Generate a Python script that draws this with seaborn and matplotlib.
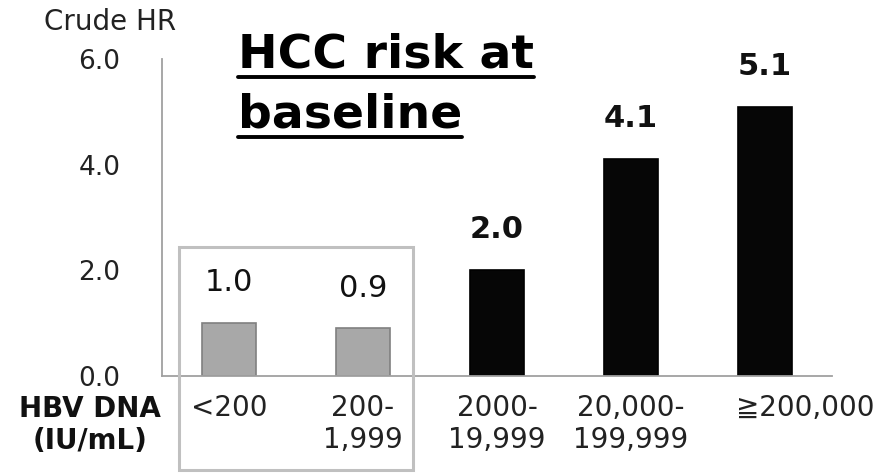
import pandas as pd
import matplotlib
matplotlib.use('Agg')
import matplotlib.pyplot as plt
import matplotlib.transforms as mtrans
import seaborn as sns
from matplotlib.patches import Rectangle
from matplotlib.lines import Line2D

# data
dna_levels = ['<200', '200-\n1,999', '2000-\n19,999', '20,000-\n199,999', '≧200,000']
crude_hr = [1.0, 0.9, 2.0, 4.1, 5.1]
groups = ['low', 'low', 'high', 'high', 'high']
ytick_vals = [0.0, 2.0, 4.0, 6.0]

df = pd.DataFrame({'dna': dna_levels, 'hr': crude_hr, 'group': groups})

sns.set_style('white')
plt.rcParams['font.family'] = ['DejaVu Sans', 'Noto Sans CJK JP']

W, H = 881, 473
fig = plt.figure(figsize=(W / 100, H / 100), dpi=100)
ax = fig.add_axes([162 / W, 97 / H, (832 - 162) / W, (376 - 59) / H])

sns.barplot(data=df, x='dna', y='hr', hue='group', order=dna_levels,
            palette={'low': '#a8a8a8', 'high': '#060606'},
            width=0.41, dodge=False, legend=False, saturation=1, ax=ax)

edge = {'low': '#808080', 'high': '#000000'}
for bar, g in zip(ax.patches, groups):
    bar.set_edgecolor(edge[g])
    bar.set_linewidth(1.2)

# value labels: normal for gray bars, bold for black
for i, (v, g) in enumerate(zip(crude_hr, groups)):
    ax.annotate(f'{v:.1f}', (i, v), xytext=(0, 23), textcoords='offset points',
                ha='center', va='baseline', fontsize=22,
                fontweight='bold' if g == 'high' else 'normal', color='#111111')

ax.set_xlim(-0.5, 4.5)
ax.set_ylim(0, 6)
ax.set_yticks(ytick_vals)
ax.set_yticklabels([f'{t:.1f}' for t in ytick_vals])
ax.set_xlabel('')
ax.set_ylabel('')
for s in ['top', 'right']:
    ax.spines[s].set_visible(False)
for s in ['left', 'bottom']:
    ax.spines[s].set_color('#a0a0a0')
    ax.spines[s].set_linewidth(1.3)
ax.tick_params(axis='y', length=7, width=1.2, color='#a0a0a0', direction='out',
               pad=23, labelsize=19, labelcolor='#222222')
ax.tick_params(axis='x', length=0, pad=13, labelsize=20, labelcolor='#222222')
xlabs = ax.get_xticklabels()
for lab in xlabs:
    lab.set_multialignment('center')
# last label sits a bit right of its bar on the slide
shift = mtrans.ScaledTranslation(0.40, 0, fig.dpi_scale_trans)
xlabs[-1].set_transform(xlabs[-1].get_transform() + shift)

# gray frame around the two lowest groups
fig.add_artist(Rectangle((179 / W, 1 - 470 / H), (413 - 179) / W, (470 - 247) / H,
                         transform=fig.transFigure, fill=False,
                         edgecolor='#c0c0c0', linewidth=2.2, zorder=5))

fig.text(110 / W, 1 - 22 / H, 'Crude HR', ha='center', va='center',
         fontsize=20, color='#222222')
fig.text(90 / W, 1 - 425 / H, 'HBV DNA\n(IU/mL)', ha='center', va='center',
         fontsize=20, fontweight='bold', color='#111111', linespacing=1.2)

# underlined title
t1 = fig.text(238 / W, 1 - 67 / H, 'HCC risk at', ha='left', va='baseline',
              fontsize=34, fontweight='bold', color='#000000')
t2 = fig.text(238 / W, 1 - 127 / H, 'baseline', ha='left', va='baseline',
              fontsize=34, fontweight='bold', color='#000000')
fig.canvas.draw()
r = fig.canvas.get_renderer()
for t, uy in [(t1, 77), (t2, 137)]:
    bb = t.get_window_extent(r)
    fig.add_artist(Line2D([bb.x0 / W, bb.x1 / W], [1 - uy / H, 1 - uy / H],
                          transform=fig.transFigure, color='#000000', linewidth=2.8))

fig.savefig('out.png', dpi=100)
